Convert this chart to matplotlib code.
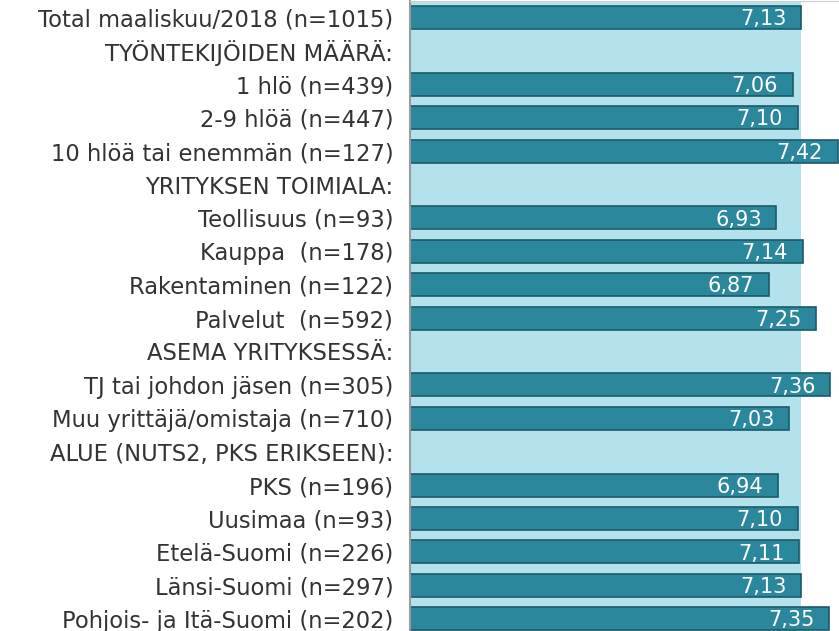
import numpy as np
import matplotlib
matplotlib.use("Agg")
import matplotlib.pyplot as plt

# rows of the chart, top to bottom (None = section header, no bar)
labels = [
    "Total maaliskuu/2018 (n=1015)",
    "TYÖNTEKIJÖIDEN MÄÄRÄ:",
    "1 hlö (n=439)",
    "2-9 hlöä (n=447)",
    "10 hlöä tai enemmän (n=127)",
    "YRITYKSEN TOIMIALA:",
    "Teollisuus (n=93)",
    "Kauppa  (n=178)",
    "Rakentaminen (n=122)",
    "Palvelut  (n=592)",
    "ASEMA YRITYKSESSÄ:",
    "TJ tai johdon jäsen (n=305)",
    "Muu yrittäjä/omistaja (n=710)",
    "ALUE (NUTS2, PKS ERIKSEEN):",
    "PKS (n=196)",
    "Uusimaa (n=93)",
    "Etelä-Suomi (n=226)",
    "Länsi-Suomi (n=297)",
    "Pohjois- ja Itä-Suomi (n=202)",
]
values = [7.13, None, 7.06, 7.10, 7.42, None, 6.93, 7.14, 6.87, 7.25,
          None, 7.36, 7.03, None, 6.94, 7.10, 7.11, 7.13, 7.35]

bar_color = "#2a879c"
edge_color = "#1c5a68"
band_color = "#b3e1ec"
text_color = "#333333"

W, H = 839, 631
fig = plt.figure(figsize=(W / 100, H / 100), dpi=100)
# axes placed so that the picture is a crop of the original chart
ax = fig.add_axes([410 / W, (H - 635.4) / H, 1 - 410 / W, 634.6 / H])

y = np.arange(len(labels))
vals = np.array([np.nan if v is None else v for v in values])

# light background band up to the total value
ax.axvspan(0, values[0], color=band_color, zorder=0, lw=0)

ax.barh(y, vals, height=0.69, color=bar_color, edgecolor=edge_color,
        linewidth=1.2, zorder=2)

for yi, v in zip(y, values):
    if v is None:
        continue
    ax.annotate(f"{v:.2f}".replace(".", ","), xy=(v, yi), xytext=(-10.5, -1.2),
                textcoords="offset points", ha="right", va="center",
                color="white", fontsize=15, zorder=3)

ax.set_xlim(4, 4 + 429 / 125)
ax.set_ylim(len(labels) - 0.5, -0.5)
ax.set_yticks(y)
ax.set_yticklabels(labels, fontsize=16.3, color=text_color)
ax.tick_params(axis="y", length=0, pad=12)
ax.set_xticks([])

for s in ["right", "bottom"]:
    ax.spines[s].set_visible(False)
ax.spines["left"].set_color("#9a9a9a")
ax.spines["left"].set_linewidth(1.5)
ax.spines["top"].set_color("#cfcfcf")
ax.spines["top"].set_linewidth(0.8)

fig.savefig("out.png", dpi=100)
